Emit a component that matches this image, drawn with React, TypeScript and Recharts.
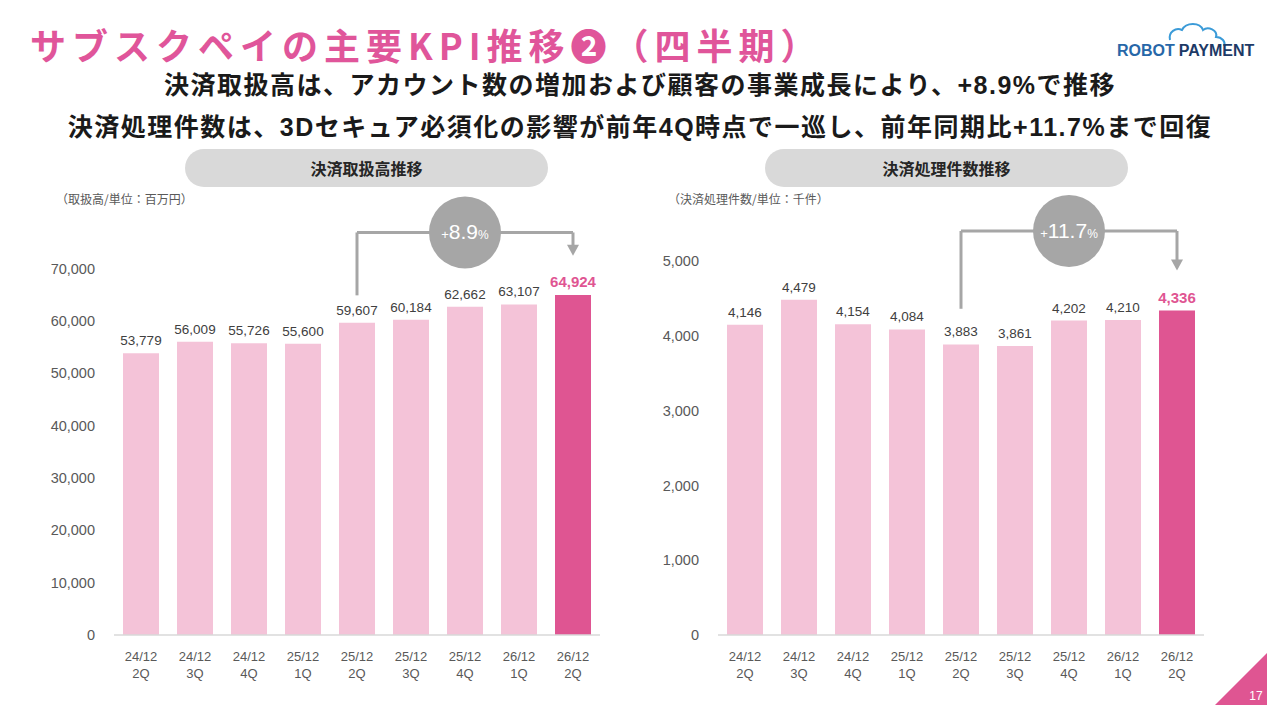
import { Bar, BarChart, Cell, LabelList, ReferenceDot, ReferenceLine, XAxis, YAxis } from 'recharts'

// Quarter labels shared by both panels (two lines: period / quarter).
const categories = [
  '24/12\n2Q',
  '24/12\n3Q',
  '24/12\n4Q',
  '25/12\n1Q',
  '25/12\n2Q',
  '25/12\n3Q',
  '25/12\n4Q',
  '26/12\n1Q',
  '26/12\n2Q',
]

// 決済取扱高 (百万円)
const volumeValues = [53779, 56009, 55726, 55600, 59607, 60184, 62662, 63107, 64924]
const volumeTicks = [0, 10000, 20000, 30000, 40000, 50000, 60000, 70000]

// 決済処理件数 (千件)
const countValues = [4146, 4479, 4154, 4084, 3883, 3861, 4202, 4210, 4336]
const countTicks = [0, 1000, 2000, 3000, 4000, 5000]

// YoY bracket: from / bubble / to category index, and the bracket heights in data units
const bracketFrom = 4
const bracketMid = 6
const bracketTo = 8
const volumeBracket = { start: 64850, level: 76860, arrowBase: 74300, tip: 72400, label: '8.9' }
const countBracket = { start: 4360, level: 5400, arrowBase: 5000, tip: 4870, label: '11.7' }

const PINK = '#df5592'
const LIGHT = '#f4c3d8'
const GREY = '#a6a6a6'
const JP = '"Noto Sans CJK JP", "Noto Sans", sans-serif'
const NUM = '"Liberation Sans", Arial, sans-serif'
const MIXED = '"Liberation Sans", Arial, "Noto Sans CJK JP", sans-serif'

const fmt = (v: number) => v.toLocaleString('en-US')

function CatTick(props: any) {
  const { x, y, payload } = props
  const lines = String(payload.value).split('\n')
  return (
    <text x={x} y={y} textAnchor="middle" fill="#595959" fontSize={13} fontFamily={NUM}>
      {lines.map((l, i) => (
        <tspan key={i} x={x} dy={i === 0 ? 24 : 17}>
          {l}
        </tspan>
      ))}
    </text>
  )
}

function Bubble(text: string) {
  return (p: any) => (
    <g>
      <circle cx={p.cx} cy={p.cy} r={36} fill={GREY} />
      <text x={p.cx} y={p.cy + 7} textAnchor="middle" fill="#fff" fontFamily={NUM}>
        <tspan fontSize={13}>+</tspan>
        <tspan fontSize={21}>{text}</tspan>
        <tspan fontSize={12}>%</tspan>
      </text>
    </g>
  )
}

function ArrowHead(p: any) {
  return <path d={`M${p.cx - 6},${p.cy - 11} L${p.cx + 6},${p.cy - 11} L${p.cx},${p.cy} Z`} fill={GREY} />
}

interface PanelProps {
  values: number[]
  ticks: number[]
  domainMax: number
  yWidth: number
  right: number
  bracket: typeof volumeBracket
}

function Panel({ values, ticks, domainMax, yWidth, right, bracket }: PanelProps) {
  const data = categories.map((c, i) => ({ cat: c, value: values[i] }))
  const last = values[values.length - 1]
  const from = categories[bracketFrom]
  const to = categories[bracketTo]
  const mid = categories[bracketMid]
  return (
    <BarChart width={620} height={510} data={data} margin={{ top: 26, right, bottom: 15, left: 0 }}>
      <XAxis
        dataKey="cat"
        height={50}
        tick={<CatTick />}
        tickLine={false}
        tickSize={0}
        axisLine={{ stroke: '#d9d9d9', strokeWidth: 1.5 }}
        interval={0}
      />
      <YAxis
        width={yWidth}
        domain={[0, domainMax]}
        ticks={ticks}
        tickFormatter={fmt}
        axisLine={false}
        tickLine={false}
        tickSize={0}
        tickMargin={19}
        tick={{ fill: '#595959', fontSize: 14.5, fontFamily: NUM }}
      />
      <Bar dataKey="value" barSize={36} isAnimationActive={false}>
        {data.map((d) => (
          <Cell key={d.cat} fill={d.value === last ? PINK : LIGHT} />
        ))}
        <LabelList
          dataKey="value"
          position="top"
          content={(p: any) => {
            const hl = Number(p.value) === last
            return (
              <text
                x={p.x + p.width / 2}
                y={p.y - 8}
                textAnchor="middle"
                fill={hl ? PINK : '#404040'}
                fontSize={hl ? 15 : 13.5}
                fontWeight={hl ? 700 : 400}
                fontFamily={NUM}
              >
                {fmt(Number(p.value))}
              </text>
            )
          }}
        />
      </Bar>
      <ReferenceLine
        segment={[
          { x: from, y: bracket.start },
          { x: from, y: bracket.level },
        ]}
        stroke={GREY}
        strokeWidth={3}
        ifOverflow="visible"
      />
      <ReferenceLine
        segment={[
          { x: from, y: bracket.level },
          { x: to, y: bracket.level },
        ]}
        stroke={GREY}
        strokeWidth={3}
        ifOverflow="visible"
      />
      <ReferenceLine
        segment={[
          { x: to, y: bracket.level },
          { x: to, y: bracket.arrowBase },
        ]}
        stroke={GREY}
        strokeWidth={3}
        ifOverflow="visible"
      />
      <ReferenceDot x={to} y={bracket.tip} r={6} shape={ArrowHead} ifOverflow="visible" />
      <ReferenceDot x={mid} y={bracket.level} r={36} shape={Bubble(bracket.label)} ifOverflow="visible" />
    </BarChart>
  )
}

const pill = (left: number, text: string) => (
  <div
    style={{
      position: 'absolute',
      left,
      top: 149,
      width: 363,
      height: 38,
      borderRadius: 19,
      background: '#d9d9d9',
      color: '#262626',
      fontFamily: JP,
      fontWeight: 700,
      fontSize: 16,
      lineHeight: '38px',
      textAlign: 'center',
    }}
  >
    {text}
  </div>
)

export default function App() {
  return (
    <div style={{ position: 'absolute', left: 0, top: 0, width: 1280, height: 720, background: '#fff', overflow: 'hidden' }}>
      <div
        style={{
          position: 'absolute',
          left: 30,
          top: 18,
          fontFamily: JP,
          fontWeight: 700,
          fontSize: 36,
          letterSpacing: 6,
          color: '#e0559a',
          whiteSpace: 'nowrap',
        }}
      >
        サブスクペイの主要KPI推移❷（四半期）
      </div>

      <svg style={{ position: 'absolute', left: 1110, top: 18 }} width={160} height={46}>
        <path
          d="M60,22 C58,14 66,9 72,12 C76,4 90,4 93,12 C98,8 108,12 106,19 C112,19 116,24 114,28"
          fill="none"
          stroke="#3b9bd8"
          strokeWidth={2}
        />
        <text x={7} y={38} fontFamily={NUM} fontWeight={700} fontSize={16} fill="#2767a8">
          ROBOT
          <tspan fill="#1d3a66" dx={4}>PAYMENT</tspan>
        </text>
      </svg>

      <div
        style={{
          position: 'absolute',
          left: 0,
          top: 66,
          width: 1280,
          textAlign: 'center',
          fontFamily: MIXED,
          fontWeight: 700,
          fontSize: 25,
          letterSpacing: 1.5,
          color: '#1a1a1a',
          whiteSpace: 'nowrap',
        }}
      >
        <div style={{ height: 41, lineHeight: '38px' }}>決済取扱高は、アカウント数の増加および顧客の事業成長により、+8.9%で推移</div>
        <div style={{ height: 41, lineHeight: '41px' }}>決済処理件数は、3Dセキュア必須化の影響が前年4Q時点で一巡し、前年同期比+11.7%まで回復</div>
      </div>

      {pill(185, '決済取扱高推移')}
      {pill(765, '決済処理件数推移')}

      <div style={{ position: 'absolute', left: 56, top: 190, fontFamily: JP, fontSize: 12, color: '#595959' }}>
        （取扱高/単位：百万円）
      </div>
      <div style={{ position: 'absolute', left: 668, top: 190, fontFamily: JP, fontSize: 12, color: '#595959' }}>
        （決済処理件数/単位：千件）
      </div>

      <div style={{ position: 'absolute', left: 0, top: 190 }}>
        <Panel values={volumeValues} ticks={volumeTicks} domainMax={80000} yWidth={114} right={20} bracket={volumeBracket} />
      </div>
      <div style={{ position: 'absolute', left: 620, top: 190 }}>
        <Panel values={countValues} ticks={countTicks} domainMax={5600} yWidth={98} right={36} bracket={countBracket} />
      </div>

      <svg style={{ position: 'absolute', left: 1210, top: 650 }} width={70} height={70}>
        <path d="M5,55 L57,3 L57,55 Z" fill={PINK} />
        <text x={46} y={50} textAnchor="middle" fill="#fff" fontSize={12} fontFamily={NUM}>
          17
        </text>
      </svg>
    </div>
  )
}
